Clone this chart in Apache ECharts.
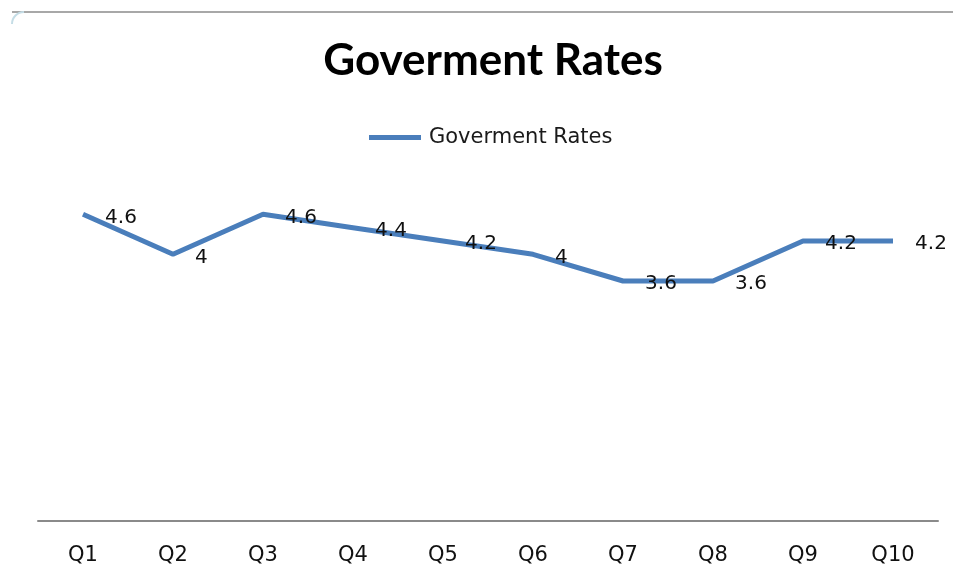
<!DOCTYPE html>
<html>
<head>
<meta charset="utf-8">
<script src="https://cdn.jsdelivr.net/npm/echarts@6/dist/echarts.min.js"></script>
<style>html,body{margin:0;padding:0;background:#fff}#c{width:953px;height:571px}</style>
</head>
<body>
<div id="c"></div>
<script>
var categories = ['Q1','Q2','Q3','Q4','Q5','Q6','Q7','Q8','Q9','Q10'];
var rates = [4.6, 4, 4.6, 4.4, 4.2, 4, 3.6, 3.6, 4.2, 4.2];
var seriesName = 'Goverment Rates';
var titleText = 'Goverment Rates';

var chart = echarts.init(document.getElementById('c'));
chart.setOption({
  backgroundColor: '#fff',
  animation: false,
  title: {
    text: titleText,
    left: 488,
    textAlign: 'center',
    top: 34,
    textStyle: { fontFamily: 'Lato', fontWeight: 'bold', fontSize: 44, color: '#000' }
  },
  legend: {
    data: [seriesName],
    left: 364,
    top: 122,
    icon: 'rect',
    itemWidth: 52,
    itemHeight: 5,
    itemStyle: { color: '#4a7ebb' },
    textStyle: { fontFamily: 'DejaVu Sans', fontSize: 21, color: '#1a1a1a', padding: [0, 0, 0, 3] }
  },
  graphic: [
    { type: 'line', shape: { x1: 12, y1: 12, x2: 953, y2: 12 }, style: { stroke: '#a8a8a8', lineWidth: 2 } },
    { type: 'arc', shape: { cx: 24, cy: 24, r: 12, startAngle: Math.PI, endAngle: Math.PI * 1.5 }, style: { stroke: '#c5dde6', lineWidth: 2, fill: null } }
  ],
  grid: { left: 38, right: 15, top: 121, bottom: 50, containLabel: false },
  xAxis: {
    type: 'category',
    data: categories,
    boundaryGap: true,
    axisLine: { lineStyle: { color: '#8a8a8a', width: 2 } },
    axisTick: { show: false },
    axisLabel: { fontFamily: 'DejaVu Sans', fontSize: 21, color: '#111', margin: 24 }
  },
  yAxis: {
    type: 'value',
    min: 0,
    max: 6,
    show: false,
    splitLine: { show: false }
  },
  series: [{
    name: seriesName,
    type: 'line',
    data: rates,
    showSymbol: true,
    symbol: 'circle',
    symbolSize: 0.1,
    lineStyle: { color: '#4a7ebb', width: 5 },
    itemStyle: { color: '#4a7ebb' },
    label: {
      show: true,
      position: 'right',
      distance: 22,
      offset: [0, 3],
      fontFamily: 'DejaVu Sans',
      fontSize: 20,
      color: '#111'
    }
  }]
});
</script>
</body>
</html>
